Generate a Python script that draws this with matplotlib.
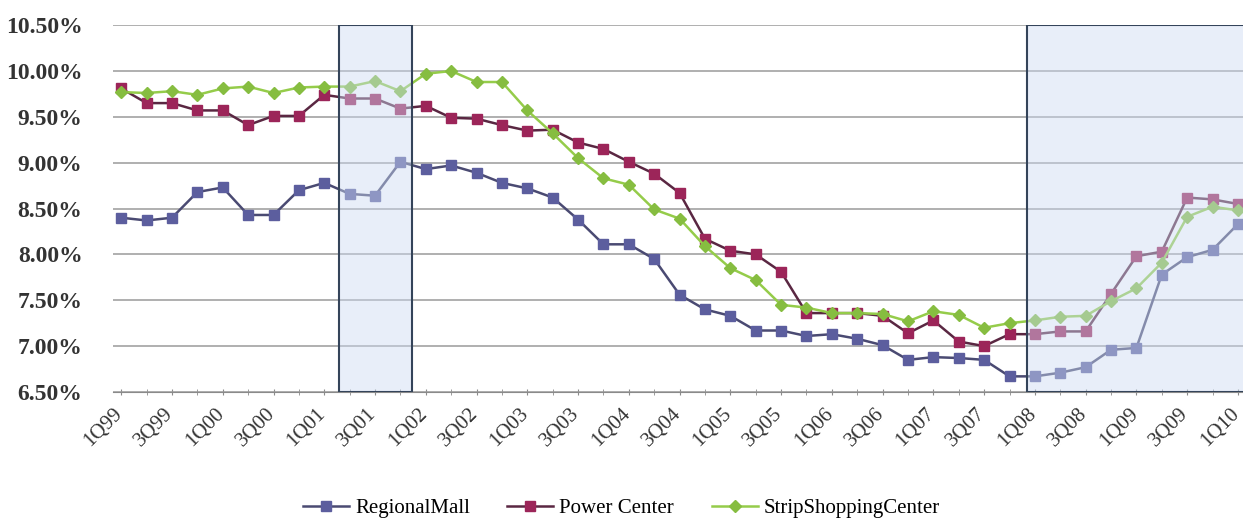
import matplotlib.pyplot as plt
from matplotlib.ticker import FuncFormatter
from matplotlib.transforms import ScaledTranslation, blended_transform_factory

# quarterly cap rates, 1Q99 .. 1Q10
quarters = [f'{q}Q{y % 100:02d}' for y in range(1999, 2011) for q in range(1, 5)][:45]

regional_mall = [8.40, 8.37, 8.40, 8.68, 8.73, 8.43, 8.43, 8.70, 8.78, 8.66, 8.64, 9.01,
                 8.93, 8.97, 8.89, 8.78, 8.72, 8.62, 8.38, 8.11, 8.11, 7.95, 7.56, 7.40,
                 7.33, 7.17, 7.17, 7.11, 7.13, 7.08, 7.01, 6.85, 6.88, 6.87, 6.85, 6.67,
                 6.67, 6.71, 6.77, 6.96, 6.98, 7.78, 7.97, 8.05, 8.33]
power_center = [9.81, 9.65, 9.65, 9.57, 9.57, 9.41, 9.51, 9.51, 9.74, 9.70, 9.70, 9.59,
                9.62, 9.49, 9.48, 9.41, 9.35, 9.36, 9.22, 9.15, 9.01, 8.88, 8.67, 8.17,
                8.04, 8.00, 7.81, 7.36, 7.36, 7.36, 7.33, 7.14, 7.28, 7.05, 7.00, 7.13,
                7.13, 7.16, 7.16, 7.57, 7.98, 8.03, 8.62, 8.60, 8.55]
strip_center = [9.77, 9.76, 9.78, 9.74, 9.81, 9.83, 9.76, 9.82, 9.83, 9.83, 9.89, 9.78,
                9.97, 10.00, 9.88, 9.88, 9.57, 9.32, 9.05, 8.83, 8.76, 8.49, 8.39, 8.09,
                7.85, 7.72, 7.45, 7.42, 7.36, 7.36, 7.35, 7.27, 7.38, 7.34, 7.20, 7.25,
                7.28, 7.32, 7.33, 7.49, 7.63, 7.91, 8.41, 8.52, 8.48]

# recession shading (index ranges of quarters)
recessions = [(8.57, 11.45), (35.7, 44.6)]


def main() -> None:
    fig = plt.figure(figsize=(12.43, 5.24), dpi=100)
    ax = fig.add_axes([0.091, 0.252, 0.909, 0.700])

    x = list(range(len(quarters)))
    ax.plot(x, regional_mall, color='#4a4a72', lw=1.8, marker='s', ms=7,
            mfc='#5c5e9e', mec='#5c5e9e', label='RegionalMall', zorder=3)
    ax.plot(x, power_center, color='#5a2742', lw=1.8, marker='s', ms=6.5,
            mfc='#9c2559', mec='#9c2559', label='Power Center', zorder=3)
    ax.plot(x, strip_center, color='#95cc4a', lw=1.8, marker='D', ms=6.5,
            mfc='#86bd40', mec='#86bd40', label='StripShoppingCenter', zorder=4)

    for x0, x1 in recessions:
        ax.axvspan(x0, x1, facecolor=(0.80, 0.86, 0.95, 0.45),
                   edgecolor='#34445a', lw=1.5, zorder=5)

    ax.set_xlim(-0.32, 44.2)
    ax.set_ylim(6.5, 10.5)
    ax.set_yticks([6.5 + 0.5 * i for i in range(9)])
    ax.yaxis.set_major_formatter(FuncFormatter(lambda v, _: f'{v:.2f}%'))
    ax.grid(axis='y', color='#9a9a9a', lw=1.1)
    ax.set_axisbelow(True)

    # category labels every second quarter, drawn as rotated texts
    ax.set_xticks(x[::2])
    ax.set_xticklabels([])
    ax.set_xticks(x[1::2], minor=True)
    trans = blended_transform_factory(ax.transData, ax.transAxes) + \
        ScaledTranslation(-8 / 100, -12 / 100, fig.dpi_scale_trans)
    for i in x[::2]:
        ax.text(i, 0, quarters[i], transform=trans, rotation=45, ha='right', va='top',
                rotation_mode='anchor', family='Liberation Serif', fontsize=15,
                color='#333333', clip_on=False)

    for lab in ax.get_yticklabels():
        lab.set_family('Liberation Serif')
        lab.set_fontsize(17)
        lab.set_fontweight('bold')
        lab.set_color('#333333')

    for side in ('top', 'right', 'left'):
        ax.spines[side].set_visible(False)
    ax.spines['bottom'].set_color('#8a8a8a')
    ax.tick_params(axis='y', length=0, pad=22)
    ax.tick_params(axis='x', which='both', length=4, color='#8a8a8a', direction='inout')

    fig.legend(loc='lower center', bbox_to_anchor=(0.5, -0.025), ncol=3, frameon=False,
               prop={'family': 'Liberation Serif', 'size': 15}, handlelength=2.2,
               columnspacing=1.8, handletextpad=0.3)

    plt.savefig('out.png', dpi=100)


if __name__ == '__main__':
    main()
